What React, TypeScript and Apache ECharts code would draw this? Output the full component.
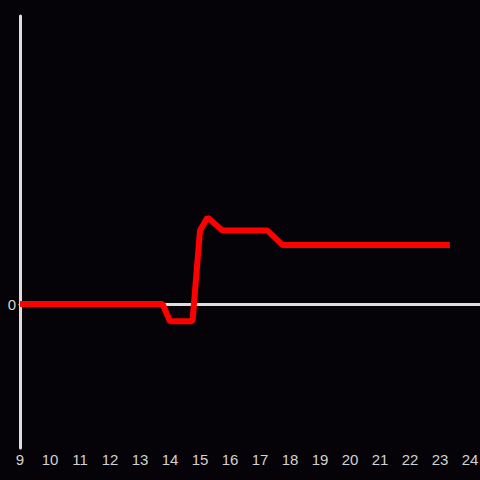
import React, { useEffect, useRef } from "react";
import * as echarts from "echarts";

const hours = [9, 13.75, 14.0, 14.75, 15.0, 15.25, 15.75, 17.25, 17.75, 23.33];
const values = [0, 0, -0.12, -0.12, 0.51, 0.6, 0.51, 0.51, 0.41, 0.41];
const yLabels = [0];

export default function App() {
  const ref = useRef<HTMLDivElement>(null);
  useEffect(() => {
    const chart = echarts.init(ref.current!, null, { renderer: "svg" });
    const labelStyle = { color: "#d2d2d2", fontSize: 15, fontFamily: "sans-serif" };
    chart.setOption({
      animation: false,
      backgroundColor: "#050307",
      grid: { left: 20, right: 0, top: 16, bottom: 32, containLabel: false, outerBoundsMode: "none" },
      xAxis: [
        {
          type: "value",
          min: 9,
          max: 24.3333,
          interval: 1,
          axisLine: { show: true, onZero: true, lineStyle: { color: "#dedede", width: 3 } },
          axisTick: { show: false },
          axisLabel: { show: false },
          splitLine: { show: false },
        },
        {
          type: "value",
          position: "bottom",
          min: 9,
          max: 24.3333,
          interval: 1,
          axisLine: { show: false, onZero: false },
          axisTick: { show: false },
          splitLine: { show: false },
          axisLabel: {
            ...labelStyle,
            margin: 4,
            formatter: (v: number) => (Math.abs(v - Math.round(v)) < 1e-6 ? String(Math.round(v)) : ""),
          },
        },
      ],
      yAxis: {
        type: "value",
        min: -1,
        max: 2,
        interval: 1,
        axisLine: { show: true, onZero: false, lineStyle: { color: "#dedede", width: 3 } },
        axisTick: { show: false },
        splitLine: { show: false },
        axisLabel: {
          ...labelStyle,
          margin: 4,
          formatter: (v: number) => (yLabels.includes(v) ? String(v) : ""),
        },
      },
      series: [
        {
          type: "line",
          xAxisIndex: 0,
          data: hours.map((h, i) => [h, values[i]]),
          showSymbol: false,
          symbol: "none",
          lineStyle: { color: "#ff0000", width: 6 },
          itemStyle: { color: "#ff0000" },
        },
      ],
    });
    return () => chart.dispose();
  }, []);
  return <div ref={ref} style={{ width: 480, height: 480, position: "absolute", left: 0, top: 0 }} />;
}
